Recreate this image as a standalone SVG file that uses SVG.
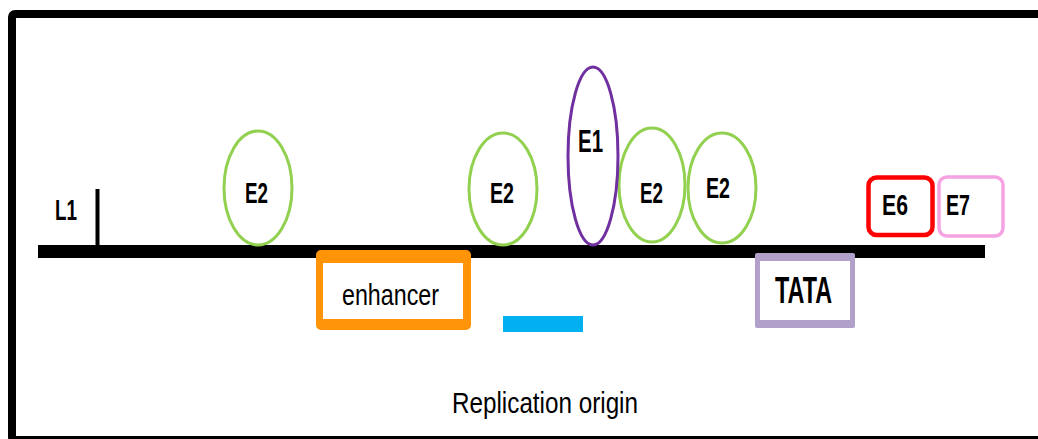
<svg xmlns="http://www.w3.org/2000/svg" width="1038" height="439" viewBox="0 0 1038 439">
<style>
.lbl{font-family:"Liberation Sans",Arial,sans-serif;font-weight:bold;fill:#000;}
.reg{font-family:"Liberation Sans",Arial,sans-serif;font-weight:normal;fill:#000;}
.e2{fill:#fff;stroke:#92d050;stroke-width:3;}
</style>
<rect x="0" y="0" width="1038" height="439" fill="#fff"/>
<rect id="frame" x="12" y="14" width="1100" height="426" rx="3" fill="none" stroke="#000" stroke-width="8"/>
<g id="backbone">
<rect x="38" y="245" width="947" height="13" fill="#000"/>
</g>
<g id="L1">
<rect x="95.5" y="189" width="4" height="57" fill="#000"/>
<text class="lbl" x="55" y="220" font-size="30" textLength="22" lengthAdjust="spacingAndGlyphs">L1</text>
</g>
<g id="E2a">
<ellipse class="e2" cx="258" cy="188" rx="34" ry="57"/>
<text class="lbl" x="245" y="203" font-size="29" textLength="23" lengthAdjust="spacingAndGlyphs">E2</text>
</g>
<g id="E2b">
<ellipse class="e2" cx="503" cy="189" rx="34" ry="56"/>
<text class="lbl" x="490" y="203" font-size="29" textLength="24" lengthAdjust="spacingAndGlyphs">E2</text>
</g>
<g id="E2c">
<ellipse class="e2" cx="652" cy="185" rx="33" ry="57"/>
<text class="lbl" x="640" y="203" font-size="29" textLength="23" lengthAdjust="spacingAndGlyphs">E2</text>
</g>
<g id="E2d">
<ellipse class="e2" cx="722" cy="188" rx="34" ry="55"/>
<text class="lbl" x="706" y="198" font-size="29" textLength="24" lengthAdjust="spacingAndGlyphs">E2</text>
</g>
<g id="E1">
<ellipse cx="593" cy="156" rx="25" ry="89" fill="#fff" stroke="#7030a0" stroke-width="3"/>
<text class="lbl" x="578" y="152" font-size="31" textLength="25" lengthAdjust="spacingAndGlyphs">E1</text>
</g>
<g id="E6">
<rect x="868.5" y="177.5" width="64" height="57.5" rx="8" fill="#fff" stroke="#ff0000" stroke-width="4.5"/>
<text class="lbl" x="882" y="215" font-size="30" textLength="26" lengthAdjust="spacingAndGlyphs">E6</text>
</g>
<g id="E7">
<rect x="939" y="177" width="64" height="59" rx="8" fill="#fff" stroke="#f5a3e2" stroke-width="3.5"/>
<text class="lbl" x="946" y="215" font-size="30" textLength="24" lengthAdjust="spacingAndGlyphs">E7</text>
</g>
<g id="enhancer">
<rect x="316" y="250" width="155" height="80" rx="5" fill="#ff9408"/>
<rect x="323" y="263" width="140" height="56" fill="#fff"/>
<text class="reg" x="342" y="305" font-size="30" textLength="97" lengthAdjust="spacingAndGlyphs">enhancer</text>
</g>
<g id="TATA">
<rect x="755" y="253" width="100" height="75" rx="2" fill="#b1a0c9"/>
<rect x="760" y="261" width="90" height="59" fill="#fff"/>
<text class="lbl" x="775" y="303" font-size="36" textLength="57" lengthAdjust="spacingAndGlyphs">TATA</text>
</g>
<g id="ori">
<rect x="503" y="316" width="80" height="16" fill="#00b0f0"/>
<text class="reg" x="452" y="413" font-size="29" textLength="186" lengthAdjust="spacingAndGlyphs">Replication origin</text>
</g>
</svg>
